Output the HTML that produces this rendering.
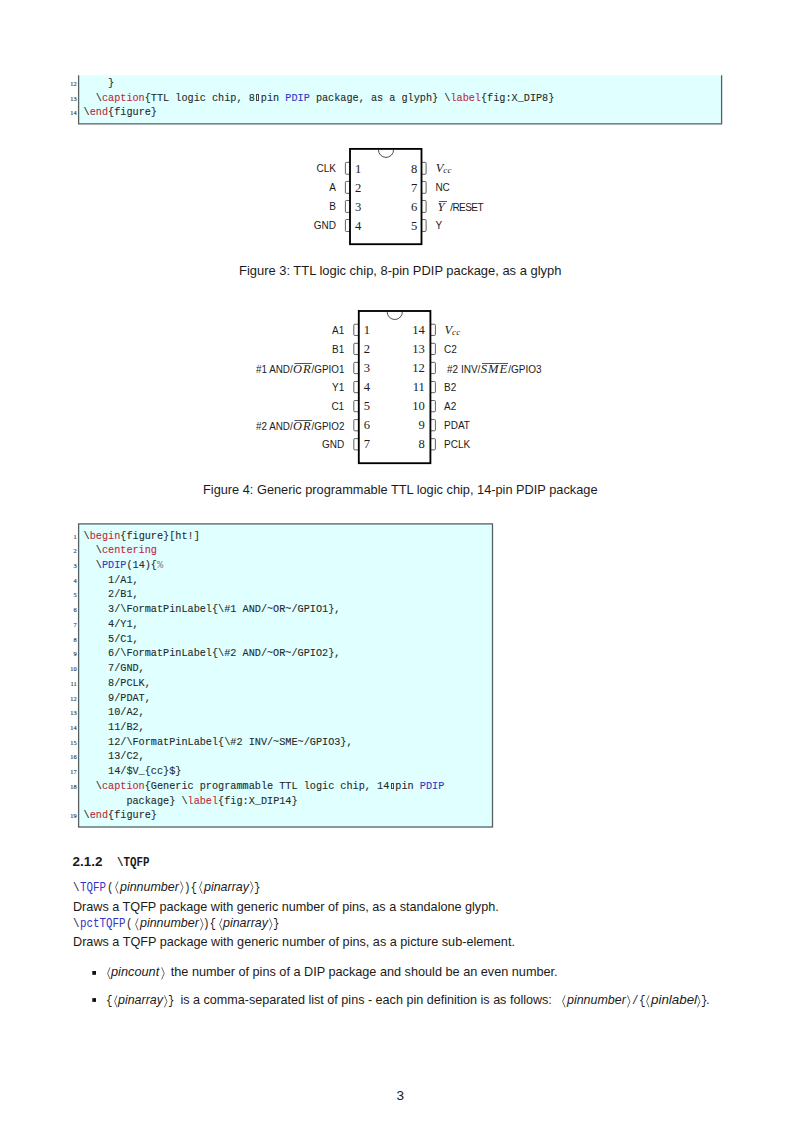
<!DOCTYPE html><html><head><meta charset="utf-8"><style>html,body{margin:0;padding:0;background:#fff;}body{width:800px;height:1132px;position:relative;overflow:hidden;}i{font-style:italic}</style></head><body><svg width="800" height="1132" style="position:absolute;left:0;top:0"><rect x="78.6" y="75.2" width="643" height="48.6" fill="#e0ffff"/><path d="M78.6,75.2 L78.6,123.8 L721.6,123.8 L721.6,75.2" fill="none" stroke="#566060" stroke-width="1.3"/><rect x="78.6" y="523.9" width="413.9" height="303.1" fill="#e0ffff"/><rect x="78.6" y="523.9" width="413.9" height="303.1" fill="none" stroke="#566060" stroke-width="1.3"/></svg><svg width="800" height="1132" style="position:absolute;left:0;top:0"><rect x="345.40" y="162.35" width="5.60" height="11.90" rx="0.9" fill="none" stroke="#3a3a3a" stroke-width="0.8"/><rect x="420.50" y="162.35" width="5.60" height="11.90" rx="0.9" fill="none" stroke="#3a3a3a" stroke-width="0.8"/><rect x="345.40" y="181.42" width="5.60" height="11.90" rx="0.9" fill="none" stroke="#3a3a3a" stroke-width="0.8"/><rect x="420.50" y="181.42" width="5.60" height="11.90" rx="0.9" fill="none" stroke="#3a3a3a" stroke-width="0.8"/><rect x="345.40" y="200.49" width="5.60" height="11.90" rx="0.9" fill="none" stroke="#3a3a3a" stroke-width="0.8"/><rect x="420.50" y="200.49" width="5.60" height="11.90" rx="0.9" fill="none" stroke="#3a3a3a" stroke-width="0.8"/><rect x="345.40" y="219.56" width="5.60" height="11.90" rx="0.9" fill="none" stroke="#3a3a3a" stroke-width="0.8"/><rect x="420.50" y="219.56" width="5.60" height="11.90" rx="0.9" fill="none" stroke="#3a3a3a" stroke-width="0.8"/><rect x="350.0" y="148.9" width="71.5" height="95.29999999999998" fill="#fff" stroke="#000" stroke-width="1.85"/><path d="M378.40,149.80 A7.6,7.6 0 0 0 393.60,149.80" fill="none" stroke="#222" stroke-width="0.8"/><rect x="353.80" y="324.25" width="6.00" height="11.20" rx="0.9" fill="none" stroke="#3a3a3a" stroke-width="0.8"/><rect x="429.40" y="324.25" width="6.00" height="11.20" rx="0.9" fill="none" stroke="#3a3a3a" stroke-width="0.8"/><rect x="353.80" y="343.32" width="6.00" height="11.20" rx="0.9" fill="none" stroke="#3a3a3a" stroke-width="0.8"/><rect x="429.40" y="343.32" width="6.00" height="11.20" rx="0.9" fill="none" stroke="#3a3a3a" stroke-width="0.8"/><rect x="353.80" y="362.39" width="6.00" height="11.20" rx="0.9" fill="none" stroke="#3a3a3a" stroke-width="0.8"/><rect x="429.40" y="362.39" width="6.00" height="11.20" rx="0.9" fill="none" stroke="#3a3a3a" stroke-width="0.8"/><rect x="353.80" y="381.46" width="6.00" height="11.20" rx="0.9" fill="none" stroke="#3a3a3a" stroke-width="0.8"/><rect x="429.40" y="381.46" width="6.00" height="11.20" rx="0.9" fill="none" stroke="#3a3a3a" stroke-width="0.8"/><rect x="353.80" y="400.53" width="6.00" height="11.20" rx="0.9" fill="none" stroke="#3a3a3a" stroke-width="0.8"/><rect x="429.40" y="400.53" width="6.00" height="11.20" rx="0.9" fill="none" stroke="#3a3a3a" stroke-width="0.8"/><rect x="353.80" y="419.60" width="6.00" height="11.20" rx="0.9" fill="none" stroke="#3a3a3a" stroke-width="0.8"/><rect x="429.40" y="419.60" width="6.00" height="11.20" rx="0.9" fill="none" stroke="#3a3a3a" stroke-width="0.8"/><rect x="353.80" y="438.67" width="6.00" height="11.20" rx="0.9" fill="none" stroke="#3a3a3a" stroke-width="0.8"/><rect x="429.40" y="438.67" width="6.00" height="11.20" rx="0.9" fill="none" stroke="#3a3a3a" stroke-width="0.8"/><rect x="358.8" y="311.0" width="71.59999999999997" height="152.2" fill="#fff" stroke="#000" stroke-width="1.85"/><path d="M387.20,311.90 A7.6,7.6 0 0 0 402.40,311.90" fill="none" stroke="#222" stroke-width="0.8"/><rect x="92.3" y="971.0" width="3.7" height="3.8" fill="#111"/><rect x="92.3" y="998.1" width="3.7" height="3.8" fill="#111"/></svg><div style="position:absolute;white-space:nowrap;font-family:'Liberation Serif', serif;font-size:6.4px;color:#2a2a2a;line-height:8.32px;-webkit-text-stroke:0.1px;left:70.21px;top:79.80px;">12</div><div style="position:absolute;white-space:nowrap;font-family:'Liberation Serif', serif;font-size:6.4px;color:#2a2a2a;line-height:8.32px;-webkit-text-stroke:0.1px;left:70.21px;top:94.50px;">13</div><div style="position:absolute;white-space:nowrap;font-family:'Liberation Serif', serif;font-size:6.4px;color:#2a2a2a;line-height:8.32px;-webkit-text-stroke:0.1px;left:70.21px;top:109.25px;">14</div><div style="position:absolute;white-space:nowrap;font-family:'Liberation Mono', monospace;font-size:10.2px;color:#1f2a2a;line-height:13.26px;white-space:pre;-webkit-text-stroke:0.1px;left:83.60px;top:76.80px;">&#32;&#32;&#32;&#32;}</div><div style="position:absolute;white-space:nowrap;font-family:'Liberation Mono', monospace;font-size:10.2px;color:#1f2a2a;line-height:13.26px;white-space:pre;-webkit-text-stroke:0.1px;left:83.60px;top:91.50px;">&#32;&#32;\<span style="color:#c0283c">caption</span>{TTL&#32;logic&#32;chip,&#32;8<span style="display:inline-block;width:3.2px;height:6.6px;border:0.8px solid #444;box-sizing:border-box;vertical-align:-0.4px;margin:0 1.45px"></span>pin&#32;<span style="color:#3434c8">PDIP</span>&#32;package,&#32;as&#32;a&#32;glyph}&#32;\<span style="color:#c0283c">label</span>{fig:X_DIP8}</div><div style="position:absolute;white-space:nowrap;font-family:'Liberation Mono', monospace;font-size:10.2px;color:#1f2a2a;line-height:13.26px;white-space:pre;-webkit-text-stroke:0.1px;left:83.60px;top:106.25px;">\<span style="color:#c0283c">end</span>{figure}</div><div style="position:absolute;white-space:nowrap;font-family:'Liberation Serif', serif;font-size:6.4px;color:#2a2a2a;line-height:8.32px;-webkit-text-stroke:0.1px;left:73.40px;top:532.50px;">1</div><div style="position:absolute;white-space:nowrap;font-family:'Liberation Mono', monospace;font-size:10.2px;color:#1f2a2a;line-height:13.26px;white-space:pre;-webkit-text-stroke:0.1px;left:83.60px;top:529.50px;">\<span style="color:#c0283c">begin</span>{figure}[ht!]</div><div style="position:absolute;white-space:nowrap;font-family:'Liberation Serif', serif;font-size:6.4px;color:#2a2a2a;line-height:8.32px;-webkit-text-stroke:0.1px;left:73.40px;top:547.23px;">2</div><div style="position:absolute;white-space:nowrap;font-family:'Liberation Mono', monospace;font-size:10.2px;color:#1f2a2a;line-height:13.26px;white-space:pre;-webkit-text-stroke:0.1px;left:83.60px;top:544.23px;">&#32;&#32;\<span style="color:#c0283c">centering</span></div><div style="position:absolute;white-space:nowrap;font-family:'Liberation Serif', serif;font-size:6.4px;color:#2a2a2a;line-height:8.32px;-webkit-text-stroke:0.1px;left:73.40px;top:561.96px;">3</div><div style="position:absolute;white-space:nowrap;font-family:'Liberation Mono', monospace;font-size:10.2px;color:#1f2a2a;line-height:13.26px;white-space:pre;-webkit-text-stroke:0.1px;left:83.60px;top:558.96px;">&#32;&#32;\<span style="color:#3434c8">PDIP</span>(14){<span style="color:#8a8a8a">%</span></div><div style="position:absolute;white-space:nowrap;font-family:'Liberation Serif', serif;font-size:6.4px;color:#2a2a2a;line-height:8.32px;-webkit-text-stroke:0.1px;left:73.40px;top:576.69px;">4</div><div style="position:absolute;white-space:nowrap;font-family:'Liberation Mono', monospace;font-size:10.2px;color:#1f2a2a;line-height:13.26px;white-space:pre;-webkit-text-stroke:0.1px;left:83.60px;top:573.69px;">&#32;&#32;&#32;&#32;1/A1,</div><div style="position:absolute;white-space:nowrap;font-family:'Liberation Serif', serif;font-size:6.4px;color:#2a2a2a;line-height:8.32px;-webkit-text-stroke:0.1px;left:73.40px;top:591.42px;">5</div><div style="position:absolute;white-space:nowrap;font-family:'Liberation Mono', monospace;font-size:10.2px;color:#1f2a2a;line-height:13.26px;white-space:pre;-webkit-text-stroke:0.1px;left:83.60px;top:588.42px;">&#32;&#32;&#32;&#32;2/B1,</div><div style="position:absolute;white-space:nowrap;font-family:'Liberation Serif', serif;font-size:6.4px;color:#2a2a2a;line-height:8.32px;-webkit-text-stroke:0.1px;left:73.40px;top:606.15px;">6</div><div style="position:absolute;white-space:nowrap;font-family:'Liberation Mono', monospace;font-size:10.2px;color:#1f2a2a;line-height:13.26px;white-space:pre;-webkit-text-stroke:0.1px;left:83.60px;top:603.15px;">&#32;&#32;&#32;&#32;3/\FormatPinLabel{\#1&#32;AND/~OR~/GPIO1},</div><div style="position:absolute;white-space:nowrap;font-family:'Liberation Serif', serif;font-size:6.4px;color:#2a2a2a;line-height:8.32px;-webkit-text-stroke:0.1px;left:73.40px;top:620.88px;">7</div><div style="position:absolute;white-space:nowrap;font-family:'Liberation Mono', monospace;font-size:10.2px;color:#1f2a2a;line-height:13.26px;white-space:pre;-webkit-text-stroke:0.1px;left:83.60px;top:617.88px;">&#32;&#32;&#32;&#32;4/Y1,</div><div style="position:absolute;white-space:nowrap;font-family:'Liberation Serif', serif;font-size:6.4px;color:#2a2a2a;line-height:8.32px;-webkit-text-stroke:0.1px;left:73.40px;top:635.61px;">8</div><div style="position:absolute;white-space:nowrap;font-family:'Liberation Mono', monospace;font-size:10.2px;color:#1f2a2a;line-height:13.26px;white-space:pre;-webkit-text-stroke:0.1px;left:83.60px;top:632.61px;">&#32;&#32;&#32;&#32;5/C1,</div><div style="position:absolute;white-space:nowrap;font-family:'Liberation Serif', serif;font-size:6.4px;color:#2a2a2a;line-height:8.32px;-webkit-text-stroke:0.1px;left:73.40px;top:650.34px;">9</div><div style="position:absolute;white-space:nowrap;font-family:'Liberation Mono', monospace;font-size:10.2px;color:#1f2a2a;line-height:13.26px;white-space:pre;-webkit-text-stroke:0.1px;left:83.60px;top:647.34px;">&#32;&#32;&#32;&#32;6/\FormatPinLabel{\#2&#32;AND/~OR~/GPIO2},</div><div style="position:absolute;white-space:nowrap;font-family:'Liberation Serif', serif;font-size:6.4px;color:#2a2a2a;line-height:8.32px;-webkit-text-stroke:0.1px;left:70.21px;top:665.07px;">10</div><div style="position:absolute;white-space:nowrap;font-family:'Liberation Mono', monospace;font-size:10.2px;color:#1f2a2a;line-height:13.26px;white-space:pre;-webkit-text-stroke:0.1px;left:83.60px;top:662.07px;">&#32;&#32;&#32;&#32;7/GND,</div><div style="position:absolute;white-space:nowrap;font-family:'Liberation Serif', serif;font-size:6.4px;color:#2a2a2a;line-height:8.32px;-webkit-text-stroke:0.1px;left:70.44px;top:679.80px;">11</div><div style="position:absolute;white-space:nowrap;font-family:'Liberation Mono', monospace;font-size:10.2px;color:#1f2a2a;line-height:13.26px;white-space:pre;-webkit-text-stroke:0.1px;left:83.60px;top:676.80px;">&#32;&#32;&#32;&#32;8/PCLK,</div><div style="position:absolute;white-space:nowrap;font-family:'Liberation Serif', serif;font-size:6.4px;color:#2a2a2a;line-height:8.32px;-webkit-text-stroke:0.1px;left:70.21px;top:694.53px;">12</div><div style="position:absolute;white-space:nowrap;font-family:'Liberation Mono', monospace;font-size:10.2px;color:#1f2a2a;line-height:13.26px;white-space:pre;-webkit-text-stroke:0.1px;left:83.60px;top:691.53px;">&#32;&#32;&#32;&#32;9/PDAT,</div><div style="position:absolute;white-space:nowrap;font-family:'Liberation Serif', serif;font-size:6.4px;color:#2a2a2a;line-height:8.32px;-webkit-text-stroke:0.1px;left:70.21px;top:709.26px;">13</div><div style="position:absolute;white-space:nowrap;font-family:'Liberation Mono', monospace;font-size:10.2px;color:#1f2a2a;line-height:13.26px;white-space:pre;-webkit-text-stroke:0.1px;left:83.60px;top:706.26px;">&#32;&#32;&#32;&#32;10/A2,</div><div style="position:absolute;white-space:nowrap;font-family:'Liberation Serif', serif;font-size:6.4px;color:#2a2a2a;line-height:8.32px;-webkit-text-stroke:0.1px;left:70.21px;top:723.99px;">14</div><div style="position:absolute;white-space:nowrap;font-family:'Liberation Mono', monospace;font-size:10.2px;color:#1f2a2a;line-height:13.26px;white-space:pre;-webkit-text-stroke:0.1px;left:83.60px;top:720.99px;">&#32;&#32;&#32;&#32;11/B2,</div><div style="position:absolute;white-space:nowrap;font-family:'Liberation Serif', serif;font-size:6.4px;color:#2a2a2a;line-height:8.32px;-webkit-text-stroke:0.1px;left:70.21px;top:738.72px;">15</div><div style="position:absolute;white-space:nowrap;font-family:'Liberation Mono', monospace;font-size:10.2px;color:#1f2a2a;line-height:13.26px;white-space:pre;-webkit-text-stroke:0.1px;left:83.60px;top:735.72px;">&#32;&#32;&#32;&#32;12/\FormatPinLabel{\#2&#32;INV/~SME~/GPIO3},</div><div style="position:absolute;white-space:nowrap;font-family:'Liberation Serif', serif;font-size:6.4px;color:#2a2a2a;line-height:8.32px;-webkit-text-stroke:0.1px;left:70.21px;top:753.45px;">16</div><div style="position:absolute;white-space:nowrap;font-family:'Liberation Mono', monospace;font-size:10.2px;color:#1f2a2a;line-height:13.26px;white-space:pre;-webkit-text-stroke:0.1px;left:83.60px;top:750.45px;">&#32;&#32;&#32;&#32;13/C2,</div><div style="position:absolute;white-space:nowrap;font-family:'Liberation Serif', serif;font-size:6.4px;color:#2a2a2a;line-height:8.32px;-webkit-text-stroke:0.1px;left:70.21px;top:768.18px;">17</div><div style="position:absolute;white-space:nowrap;font-family:'Liberation Mono', monospace;font-size:10.2px;color:#1f2a2a;line-height:13.26px;white-space:pre;-webkit-text-stroke:0.1px;left:83.60px;top:765.18px;">&#32;&#32;&#32;&#32;14/$V_{cc}$}</div><div style="position:absolute;white-space:nowrap;font-family:'Liberation Serif', serif;font-size:6.4px;color:#2a2a2a;line-height:8.32px;-webkit-text-stroke:0.1px;left:70.21px;top:782.91px;">18</div><div style="position:absolute;white-space:nowrap;font-family:'Liberation Mono', monospace;font-size:10.2px;color:#1f2a2a;line-height:13.26px;white-space:pre;-webkit-text-stroke:0.1px;left:83.60px;top:779.91px;">&#32;&#32;\<span style="color:#c0283c">caption</span>{Generic&#32;programmable&#32;TTL&#32;logic&#32;chip,&#32;14<span style="display:inline-block;width:3.2px;height:6.6px;border:0.8px solid #444;box-sizing:border-box;vertical-align:-0.4px;margin:0 1.45px"></span>pin&#32;<span style="color:#3434c8">PDIP</span></div><div style="position:absolute;white-space:nowrap;font-family:'Liberation Mono', monospace;font-size:10.2px;color:#1f2a2a;line-height:13.26px;white-space:pre;-webkit-text-stroke:0.1px;left:83.60px;top:794.64px;">&#32;&#32;&#32;&#32;&#32;&#32;&#32;package}&#32;\<span style="color:#c0283c">label</span>{fig:X_DIP14}</div><div style="position:absolute;white-space:nowrap;font-family:'Liberation Serif', serif;font-size:6.4px;color:#2a2a2a;line-height:8.32px;-webkit-text-stroke:0.1px;left:70.21px;top:812.37px;">19</div><div style="position:absolute;white-space:nowrap;font-family:'Liberation Mono', monospace;font-size:10.2px;color:#1f2a2a;line-height:13.26px;white-space:pre;-webkit-text-stroke:0.1px;left:83.60px;top:809.37px;">\<span style="color:#c0283c">end</span>{figure}</div><div style="position:absolute;white-space:nowrap;font-family:'Liberation Sans', sans-serif;font-size:10.0px;color:#1b1b1b;line-height:13.00px;left:316.55px;top:161.90px;">CLK</div><div style="position:absolute;white-space:nowrap;font-family:'Liberation Sans', sans-serif;font-size:10.0px;color:#1b1b1b;line-height:13.00px;left:329.33px;top:180.90px;">A</div><div style="position:absolute;white-space:nowrap;font-family:'Liberation Sans', sans-serif;font-size:10.0px;color:#1b1b1b;line-height:13.00px;left:329.33px;top:199.90px;">B</div><div style="position:absolute;white-space:nowrap;font-family:'Liberation Sans', sans-serif;font-size:10.0px;color:#1b1b1b;line-height:13.00px;left:313.77px;top:218.90px;">GND</div><div style="position:absolute;white-space:nowrap;font-family:'Liberation Serif', serif;font-size:12.6px;color:#1b1b1b;line-height:16.38px;left:355.00px;top:160.60px;">1</div><div style="position:absolute;white-space:nowrap;font-family:'Liberation Serif', serif;font-size:12.6px;color:#1b1b1b;line-height:16.38px;left:355.00px;top:179.60px;">2</div><div style="position:absolute;white-space:nowrap;font-family:'Liberation Serif', serif;font-size:12.6px;color:#1b1b1b;line-height:16.38px;left:355.00px;top:198.60px;">3</div><div style="position:absolute;white-space:nowrap;font-family:'Liberation Serif', serif;font-size:12.6px;color:#1b1b1b;line-height:16.38px;left:355.00px;top:217.60px;">4</div><div style="position:absolute;white-space:nowrap;font-family:'Liberation Serif', serif;font-size:12.6px;color:#1b1b1b;line-height:16.38px;left:410.90px;top:160.60px;">8</div><div style="position:absolute;white-space:nowrap;font-family:'Liberation Serif', serif;font-size:12.6px;color:#1b1b1b;line-height:16.38px;left:410.90px;top:179.60px;">7</div><div style="position:absolute;white-space:nowrap;font-family:'Liberation Serif', serif;font-size:12.6px;color:#1b1b1b;line-height:16.38px;left:410.90px;top:198.60px;">6</div><div style="position:absolute;white-space:nowrap;font-family:'Liberation Serif', serif;font-size:12.6px;color:#1b1b1b;line-height:16.38px;left:410.90px;top:217.60px;">5</div><div style="position:absolute;white-space:nowrap;font-family:'Liberation Sans', sans-serif;font-size:10.0px;color:#1b1b1b;line-height:13.00px;left:435.80px;top:161.90px;"><span style="font-family:'Liberation Serif', serif;font-style:italic;font-size:12.6px">V</span><span style="font-family:'Liberation Serif', serif;font-style:italic;font-size:9px;position:relative;top:0.9px;margin-left:-0.2px;letter-spacing:0.3px">cc</span></div><div style="position:absolute;white-space:nowrap;font-family:'Liberation Sans', sans-serif;font-size:10.0px;color:#1b1b1b;line-height:13.00px;left:435.40px;top:180.90px;">NC</div><div style="position:absolute;white-space:nowrap;font-family:'Liberation Sans', sans-serif;font-size:10.0px;color:#1b1b1b;line-height:13.00px;left:437.60px;top:200.90px;"><span style="font-family:'Liberation Serif', serif;font-style:italic;font-size:12.6px;position:relative;display:inline-block"><span style="position:absolute;left:1.0px;right:-2.6px;top:0.5px;border-top:0.7px solid #555"></span>Y</span><span style="margin-left:5.6px;letter-spacing:-0.55px">/RESET</span></div><div style="position:absolute;white-space:nowrap;font-family:'Liberation Sans', sans-serif;font-size:10.0px;color:#1b1b1b;line-height:13.00px;left:435.40px;top:218.90px;">Y</div><div style="position:absolute;white-space:nowrap;font-family:'Liberation Sans', sans-serif;font-size:13.1px;color:#1b1b1b;line-height:17.03px;left:238.85px;top:262.00px;transform:scaleX(0.9871);transform-origin:0 0;">Figure 3: TTL logic chip, 8-pin PDIP package, as a glyph</div><div style="position:absolute;white-space:nowrap;font-family:'Liberation Sans', sans-serif;font-size:10.0px;color:#1b1b1b;line-height:13.00px;left:331.97px;top:323.90px;">A1</div><div style="position:absolute;white-space:nowrap;font-family:'Liberation Sans', sans-serif;font-size:10.0px;color:#1b1b1b;line-height:13.00px;left:331.97px;top:342.95px;">B1</div><div style="position:absolute;white-space:nowrap;font-family:'Liberation Sans', sans-serif;font-size:10.0px;color:#1b1b1b;line-height:13.00px;left:255.75px;top:362.70px;transform:scaleX(0.9850);transform-origin:0 0;">#1 AND/<span style="font-family:'Liberation Serif', serif;font-style:italic;font-size:12.6px;position:relative;display:inline-block;letter-spacing:1.05px;margin-left:0.3px"><span style="position:absolute;left:1.2px;right:-0.2px;top:0.3px;border-top:0.7px solid #555"></span>OR</span>/GPIO1</div><div style="position:absolute;white-space:nowrap;font-family:'Liberation Sans', sans-serif;font-size:10.0px;color:#1b1b1b;line-height:13.00px;left:331.97px;top:381.05px;">Y1</div><div style="position:absolute;white-space:nowrap;font-family:'Liberation Sans', sans-serif;font-size:10.0px;color:#1b1b1b;line-height:13.00px;left:331.40px;top:400.10px;">C1</div><div style="position:absolute;white-space:nowrap;font-family:'Liberation Sans', sans-serif;font-size:10.0px;color:#1b1b1b;line-height:13.00px;left:255.75px;top:419.85px;transform:scaleX(0.9850);transform-origin:0 0;">#2 AND/<span style="font-family:'Liberation Serif', serif;font-style:italic;font-size:12.6px;position:relative;display:inline-block;letter-spacing:1.05px;margin-left:0.3px"><span style="position:absolute;left:1.2px;right:-0.2px;top:0.3px;border-top:0.7px solid #555"></span>OR</span>/GPIO2</div><div style="position:absolute;white-space:nowrap;font-family:'Liberation Sans', sans-serif;font-size:10.0px;color:#1b1b1b;line-height:13.00px;left:321.97px;top:438.20px;">GND</div><div style="position:absolute;white-space:nowrap;font-family:'Liberation Serif', serif;font-size:12.6px;color:#1b1b1b;line-height:16.38px;left:363.80px;top:322.10px;">1</div><div style="position:absolute;white-space:nowrap;font-family:'Liberation Serif', serif;font-size:12.6px;color:#1b1b1b;line-height:16.38px;left:363.80px;top:341.15px;">2</div><div style="position:absolute;white-space:nowrap;font-family:'Liberation Serif', serif;font-size:12.6px;color:#1b1b1b;line-height:16.38px;left:363.80px;top:360.20px;">3</div><div style="position:absolute;white-space:nowrap;font-family:'Liberation Serif', serif;font-size:12.6px;color:#1b1b1b;line-height:16.38px;left:363.80px;top:379.25px;">4</div><div style="position:absolute;white-space:nowrap;font-family:'Liberation Serif', serif;font-size:12.6px;color:#1b1b1b;line-height:16.38px;left:363.80px;top:398.30px;">5</div><div style="position:absolute;white-space:nowrap;font-family:'Liberation Serif', serif;font-size:12.6px;color:#1b1b1b;line-height:16.38px;left:363.80px;top:417.35px;">6</div><div style="position:absolute;white-space:nowrap;font-family:'Liberation Serif', serif;font-size:12.6px;color:#1b1b1b;line-height:16.38px;left:363.80px;top:436.40px;">7</div><div style="position:absolute;white-space:nowrap;font-family:'Liberation Serif', serif;font-size:12.6px;color:#1b1b1b;line-height:16.38px;left:412.21px;top:322.10px;">14</div><div style="position:absolute;white-space:nowrap;font-family:'Liberation Serif', serif;font-size:12.6px;color:#1b1b1b;line-height:16.38px;left:412.21px;top:341.15px;">13</div><div style="position:absolute;white-space:nowrap;font-family:'Liberation Serif', serif;font-size:12.6px;color:#1b1b1b;line-height:16.38px;left:412.21px;top:360.20px;">12</div><div style="position:absolute;white-space:nowrap;font-family:'Liberation Serif', serif;font-size:12.6px;color:#1b1b1b;line-height:16.38px;left:412.66px;top:379.25px;">11</div><div style="position:absolute;white-space:nowrap;font-family:'Liberation Serif', serif;font-size:12.6px;color:#1b1b1b;line-height:16.38px;left:412.21px;top:398.30px;">10</div><div style="position:absolute;white-space:nowrap;font-family:'Liberation Serif', serif;font-size:12.6px;color:#1b1b1b;line-height:16.38px;left:418.50px;top:417.35px;">9</div><div style="position:absolute;white-space:nowrap;font-family:'Liberation Serif', serif;font-size:12.6px;color:#1b1b1b;line-height:16.38px;left:418.50px;top:436.40px;">8</div><div style="position:absolute;white-space:nowrap;font-family:'Liberation Sans', sans-serif;font-size:10.0px;color:#1b1b1b;line-height:13.00px;left:444.40px;top:323.90px;"><span style="font-family:'Liberation Serif', serif;font-style:italic;font-size:12.6px">V</span><span style="font-family:'Liberation Serif', serif;font-style:italic;font-size:9px;position:relative;top:0.9px;margin-left:-0.2px;letter-spacing:0.3px">cc</span></div><div style="position:absolute;white-space:nowrap;font-family:'Liberation Sans', sans-serif;font-size:10.0px;color:#1b1b1b;line-height:13.00px;left:444.00px;top:342.95px;">C2</div><div style="position:absolute;white-space:nowrap;font-family:'Liberation Sans', sans-serif;font-size:10.0px;color:#1b1b1b;line-height:13.00px;left:447.00px;top:362.90px;">#2 INV/<span style="font-family:'Liberation Serif', serif;font-style:italic;font-size:12.6px;position:relative;display:inline-block;letter-spacing:1.05px;margin-left:0.3px"><span style="position:absolute;left:1.2px;right:-0.2px;top:0.3px;border-top:0.7px solid #555"></span>SME</span>/GPIO3</div><div style="position:absolute;white-space:nowrap;font-family:'Liberation Sans', sans-serif;font-size:10.0px;color:#1b1b1b;line-height:13.00px;left:444.00px;top:381.05px;">B2</div><div style="position:absolute;white-space:nowrap;font-family:'Liberation Sans', sans-serif;font-size:10.0px;color:#1b1b1b;line-height:13.00px;left:444.00px;top:400.10px;">A2</div><div style="position:absolute;white-space:nowrap;font-family:'Liberation Sans', sans-serif;font-size:10.0px;color:#1b1b1b;line-height:13.00px;left:444.00px;top:419.15px;">PDAT</div><div style="position:absolute;white-space:nowrap;font-family:'Liberation Sans', sans-serif;font-size:10.0px;color:#1b1b1b;line-height:13.00px;left:444.00px;top:438.20px;">PCLK</div><div style="position:absolute;white-space:nowrap;font-family:'Liberation Sans', sans-serif;font-size:13.1px;color:#1b1b1b;line-height:17.03px;left:203.10px;top:480.90px;transform:scaleX(0.9755);transform-origin:0 0;">Figure 4: Generic programmable TTL logic chip, 14-pin PDIP package</div><div style="position:absolute;white-space:nowrap;font-family:'Liberation Sans', sans-serif;font-size:12.9px;color:#1b1b1b;line-height:16.77px;left:72.60px;top:853.90px;"><span style="display:inline-block;width:30.03px;white-space:pre"><span style="display:inline-block;white-space:pre;font-size:13.5px;transform:scaleX(1.0000);transform-origin:0 0"><b>2.1.2</b></span></span><span style="display:inline-block;width:14.6px"></span><span style="display:inline-block;width:32.48px;white-space:pre"><span style="display:inline-block;white-space:pre;font-family:'Liberation Mono', monospace;font-size:12.3px;font-weight:bold;transform:scaleX(0.8800);transform-origin:0 0">\TQFP</span></span></div><div style="position:absolute;white-space:nowrap;font-family:'Liberation Sans', sans-serif;font-size:13.1px;color:#1b1b1b;line-height:17.03px;left:73.30px;top:877.60px;"><span style="display:inline-block;width:6.50px;white-space:pre"><span style="display:inline-block;white-space:pre;font-family:'Liberation Mono', monospace;font-size:12.5px;transform:scaleX(0.8650);transform-origin:0 0">\</span></span><span style="display:inline-block;width:25.96px;white-space:pre"><span style="display:inline-block;white-space:pre;font-family:'Liberation Mono', monospace;font-size:12.5px;color:#3434c8;transform:scaleX(0.8650);transform-origin:0 0">TQFP</span></span><span style="display:inline-block;width:1.0px"></span><span style="display:inline-block;width:6.50px;white-space:pre"><span style="display:inline-block;white-space:pre;font-family:'Liberation Mono', monospace;font-size:12.5px;transform:scaleX(0.8650);transform-origin:0 0">(</span></span><svg width="3.6" height="12.8" style="vertical-align:-3.2px;margin:0 1.6px 0 1.8px;overflow:visible" viewBox="0 0 3.6 12.8"><path d="M3.10,0.4 L0.6,6.40 L3.10,12.40" fill="none" stroke="#383838" stroke-width="0.75"/></svg><span style="display:inline-block;width:58.78px;white-space:pre"><span style="display:inline-block;white-space:pre;transform:scaleX(0.9500);transform-origin:0 0"><i>pinnumber</i></span></span><svg width="3.6" height="12.8" style="vertical-align:-3.2px;margin:0 0.0px 0 1.4px;overflow:visible" viewBox="0 0 3.6 12.8"><path d="M0.5,0.4 L3.00,6.40 L0.5,12.40" fill="none" stroke="#383838" stroke-width="0.75"/></svg><span style="display:inline-block;width:12.99px;white-space:pre"><span style="display:inline-block;white-space:pre;font-family:'Liberation Mono', monospace;font-size:12.5px;transform:scaleX(0.8650);transform-origin:0 0">){</span></span><svg width="3.6" height="12.8" style="vertical-align:-3.2px;margin:0 0.9px 0 2.4px;overflow:visible" viewBox="0 0 3.6 12.8"><path d="M3.10,0.4 L0.6,6.40 L3.10,12.40" fill="none" stroke="#383838" stroke-width="0.75"/></svg><span style="display:inline-block;width:44.95px;white-space:pre"><span style="display:inline-block;white-space:pre;transform:scaleX(0.9500);transform-origin:0 0"><i>pinarray</i></span></span><svg width="3.6" height="12.8" style="vertical-align:-3.2px;margin:0 0.0px 0 1.2px;overflow:visible" viewBox="0 0 3.6 12.8"><path d="M0.5,0.4 L3.00,6.40 L0.5,12.40" fill="none" stroke="#383838" stroke-width="0.75"/></svg><span style="display:inline-block;width:6.50px;white-space:pre"><span style="display:inline-block;white-space:pre;font-family:'Liberation Mono', monospace;font-size:12.5px;transform:scaleX(0.8650);transform-origin:0 0">}</span></span></div><div style="position:absolute;white-space:nowrap;font-family:'Liberation Sans', sans-serif;font-size:13.1px;color:#1b1b1b;line-height:17.03px;left:73.25px;top:897.75px;transform:scaleX(0.9647);transform-origin:0 0;">Draws a TQFP package with generic number of pins, as a standalone glyph.</div><div style="position:absolute;white-space:nowrap;font-family:'Liberation Sans', sans-serif;font-size:13.1px;color:#1b1b1b;line-height:17.03px;left:73.30px;top:914.25px;"><span style="display:inline-block;width:6.50px;white-space:pre"><span style="display:inline-block;white-space:pre;font-family:'Liberation Mono', monospace;font-size:12.5px;transform:scaleX(0.8650);transform-origin:0 0">\</span></span><span style="display:inline-block;width:45.43px;white-space:pre"><span style="display:inline-block;white-space:pre;font-family:'Liberation Mono', monospace;font-size:12.5px;color:#3434c8;transform:scaleX(0.8650);transform-origin:0 0">pctTQFP</span></span><span style="display:inline-block;width:1.0px"></span><span style="display:inline-block;width:6.50px;white-space:pre"><span style="display:inline-block;white-space:pre;font-family:'Liberation Mono', monospace;font-size:12.5px;transform:scaleX(0.8650);transform-origin:0 0">(</span></span><svg width="3.6" height="12.8" style="vertical-align:-3.2px;margin:0 1.6px 0 1.8px;overflow:visible" viewBox="0 0 3.6 12.8"><path d="M3.10,0.4 L0.6,6.40 L3.10,12.40" fill="none" stroke="#383838" stroke-width="0.75"/></svg><span style="display:inline-block;width:58.78px;white-space:pre"><span style="display:inline-block;white-space:pre;transform:scaleX(0.9500);transform-origin:0 0"><i>pinnumber</i></span></span><svg width="3.6" height="12.8" style="vertical-align:-3.2px;margin:0 0.0px 0 1.4px;overflow:visible" viewBox="0 0 3.6 12.8"><path d="M0.5,0.4 L3.00,6.40 L0.5,12.40" fill="none" stroke="#383838" stroke-width="0.75"/></svg><span style="display:inline-block;width:12.99px;white-space:pre"><span style="display:inline-block;white-space:pre;font-family:'Liberation Mono', monospace;font-size:12.5px;transform:scaleX(0.8650);transform-origin:0 0">){</span></span><svg width="3.6" height="12.8" style="vertical-align:-3.2px;margin:0 0.9px 0 2.4px;overflow:visible" viewBox="0 0 3.6 12.8"><path d="M3.10,0.4 L0.6,6.40 L3.10,12.40" fill="none" stroke="#383838" stroke-width="0.75"/></svg><span style="display:inline-block;width:44.95px;white-space:pre"><span style="display:inline-block;white-space:pre;transform:scaleX(0.9500);transform-origin:0 0"><i>pinarray</i></span></span><svg width="3.6" height="12.8" style="vertical-align:-3.2px;margin:0 0.0px 0 1.2px;overflow:visible" viewBox="0 0 3.6 12.8"><path d="M0.5,0.4 L3.00,6.40 L0.5,12.40" fill="none" stroke="#383838" stroke-width="0.75"/></svg><span style="display:inline-block;width:6.50px;white-space:pre"><span style="display:inline-block;white-space:pre;font-family:'Liberation Mono', monospace;font-size:12.5px;transform:scaleX(0.8650);transform-origin:0 0">}</span></span></div><div style="position:absolute;white-space:nowrap;font-family:'Liberation Sans', sans-serif;font-size:13.1px;color:#1b1b1b;line-height:17.03px;left:73.25px;top:933.00px;transform:scaleX(0.9664);transform-origin:0 0;">Draws a TQFP package with generic number of pins, as a picture sub-element.</div><div style="position:absolute;white-space:nowrap;font-family:'Liberation Sans', sans-serif;font-size:13.1px;color:#1b1b1b;line-height:17.03px;left:106.60px;top:963.25px;transform:scaleX(1.0038);transform-origin:0 0;"><svg width="3.6" height="12.8" style="vertical-align:-3.2px;margin:0 0.6px 0 0px;overflow:visible" viewBox="0 0 3.6 12.8"><path d="M3.10,0.4 L0.6,6.40 L3.10,12.40" fill="none" stroke="#383838" stroke-width="0.75"/></svg><span style="display:inline-block;width:48.03px;white-space:pre"><span style="display:inline-block;white-space:pre;transform:scaleX(0.9700);transform-origin:0 0"><i>pincount</i></span></span><svg width="3.6" height="12.8" style="vertical-align:-3.2px;margin:0 2.4px 0 1.8px;overflow:visible" viewBox="0 0 3.6 12.8"><path d="M0.5,0.4 L3.00,6.40 L0.5,12.40" fill="none" stroke="#383838" stroke-width="0.75"/></svg><span style="display:inline-block;width:388.93px;white-space:pre"><span style="display:inline-block;white-space:pre;transform:scaleX(0.9650);transform-origin:0 0"> the number of pins of a DIP package and should be an even number.</span></span></div><div style="position:absolute;white-space:nowrap;font-family:'Liberation Sans', sans-serif;font-size:13.1px;color:#1b1b1b;line-height:17.03px;left:106.00px;top:991.40px;"><span style="display:inline-block;width:6.50px;white-space:pre"><span style="display:inline-block;white-space:pre;font-family:'Liberation Mono', monospace;font-size:12.5px;transform:scaleX(0.8650);transform-origin:0 0">{</span></span><svg width="3.6" height="12.8" style="vertical-align:-3.2px;margin:0 1.0px 0 1.0px;overflow:visible" viewBox="0 0 3.6 12.8"><path d="M3.10,0.4 L0.6,6.40 L3.10,12.40" fill="none" stroke="#383838" stroke-width="0.75"/></svg><span style="display:inline-block;width:44.95px;white-space:pre"><span style="display:inline-block;white-space:pre;transform:scaleX(0.9500);transform-origin:0 0"><i>pinarray</i></span></span><svg width="3.6" height="12.8" style="vertical-align:-3.2px;margin:0 0.0px 0 1.0px;overflow:visible" viewBox="0 0 3.6 12.8"><path d="M0.5,0.4 L3.00,6.40 L0.5,12.40" fill="none" stroke="#383838" stroke-width="0.75"/></svg><span style="display:inline-block;width:6.50px;white-space:pre"><span style="display:inline-block;white-space:pre;font-family:'Liberation Mono', monospace;font-size:12.5px;transform:scaleX(0.8650);transform-origin:0 0">}</span></span><span style="display:inline-block;width:2.9px"></span><span style="display:inline-block;width:378.38px;white-space:pre"><span style="display:inline-block;white-space:pre;transform:scaleX(0.9610);transform-origin:0 0"> is a comma-separated list of pins - each pin definition is as follows: </span></span><svg width="3.6" height="12.8" style="vertical-align:-3.2px;margin:0 1.5px 0 6.2px;overflow:visible" viewBox="0 0 3.6 12.8"><path d="M3.10,0.4 L0.6,6.40 L3.10,12.40" fill="none" stroke="#383838" stroke-width="0.75"/></svg><span style="display:inline-block;width:58.78px;white-space:pre"><span style="display:inline-block;white-space:pre;transform:scaleX(0.9500);transform-origin:0 0"><i>pinnumber</i></span></span><svg width="3.6" height="12.8" style="vertical-align:-3.2px;margin:0 1.2px 0 1.4px;overflow:visible" viewBox="0 0 3.6 12.8"><path d="M0.5,0.4 L3.00,6.40 L0.5,12.40" fill="none" stroke="#383838" stroke-width="0.75"/></svg><span style="display:inline-block;width:6.50px;white-space:pre"><span style="display:inline-block;white-space:pre;font-family:'Liberation Mono', monospace;font-size:12.5px;transform:scaleX(0.8650);transform-origin:0 0">/</span></span><span style="display:inline-block;width:1.2px"></span><span style="display:inline-block;width:6.50px;white-space:pre"><span style="display:inline-block;white-space:pre;font-family:'Liberation Mono', monospace;font-size:12.5px;transform:scaleX(0.8650);transform-origin:0 0">{</span></span><svg width="3.6" height="12.8" style="vertical-align:-3.2px;margin:0 1.6px 0 0.0px;overflow:visible" viewBox="0 0 3.6 12.8"><path d="M3.10,0.4 L0.6,6.40 L3.10,12.40" fill="none" stroke="#383838" stroke-width="0.75"/></svg><span style="display:inline-block;width:46.04px;white-space:pre"><span style="display:inline-block;white-space:pre;transform:scaleX(1.0200);transform-origin:0 0"><i>pinlabel</i></span></span><svg width="3.6" height="12.8" style="vertical-align:-3.2px;margin:0 0px 0 0.4px;overflow:visible" viewBox="0 0 3.6 12.8"><path d="M0.5,0.4 L3.00,6.40 L0.5,12.40" fill="none" stroke="#383838" stroke-width="0.75"/></svg><span style="display:inline-block;width:6.50px;white-space:pre"><span style="display:inline-block;white-space:pre;font-family:'Liberation Mono', monospace;font-size:12.5px;transform:scaleX(0.8650);transform-origin:0 0">}</span></span><span style="margin-left:-1.4px">.</span></div><div style="position:absolute;white-space:nowrap;font-family:'Liberation Sans', sans-serif;font-size:13.6px;color:#1b1b1b;line-height:17.68px;left:396.40px;top:1086.75px;">3</div></body></html>
